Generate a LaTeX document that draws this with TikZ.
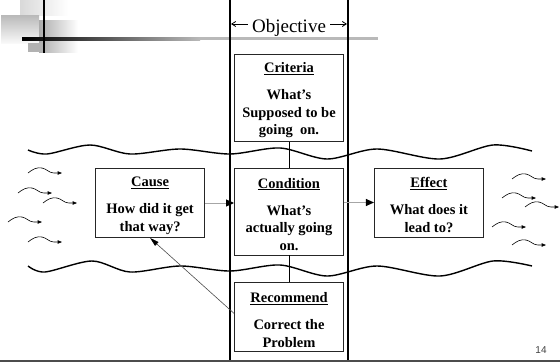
\documentclass[tikz,border=0pt]{standalone}
\usepackage{fontspec}
\setmainfont{Liberation Serif}
\setsansfont{Liberation Sans}
\usetikzlibrary{arrows.meta, positioning}
\newcommand{\boxhead}[1]{\rule{0pt}{15.5pt}\underline{#1}}

\begin{document}
\begin{tikzpicture}[
  x=1pt, y=-1pt,
  box/.style={draw=black!85, line width=0.9pt, minimum width=109pt,
              minimum height=87pt, inner sep=0pt, align=center,
              font=\bfseries\fontsize{14.5}{17.5}\selectfont},
  shortbox/.style={box, minimum height=69pt},
  flow/.style={draw=gray!70, line width=1pt, -{Triangle[length=8pt,width=7pt,color=black]}},
  link/.style={draw=black, line width=0.7pt},
  hint/.style={draw=black!70, line width=0.6pt, -{Triangle[length=9pt,width=5pt,color=black]}},
  frame/.style={line width=2pt, black},
  wave/.style={line width=1.4pt, black},
  drift/.style={line width=0.6pt, -{Triangle[length=4.5pt,width=3.5pt]}},
  objarrow/.style={line width=0.8pt, -{Straight Barb[length=4pt,width=5pt]}}
]
\useasboundingbox (0,0) rectangle (560,364);

% template corner
\shade[left color=gray!30, right color=white] (20,0) rectangle (68,15);
\shade[top color=gray!55, bottom color=gray!5] (1,15) rectangle (39,43);
\shade[left color=gray!65, right color=white] (39,20) rectangle (78,52);
\fill[gray!60] (28,43) rectangle (44,52);
\shade[left color=black, right color=gray!55] (22,37) rectangle (200,40);
\fill[gray!55] (200,37) rectangle (378,40);
\draw[line width=2.5pt] (44,0) -- (44,53);

% river banks
\draw[wave] plot[smooth] coordinates {(28,150) (47,154) (90,145) (130,154)
  (180,149) (230,154) (280,148) (327,159) (377,149) (440,159) (493,145) (532,151)};
\draw[wave] plot[smooth] coordinates {(28,266) (45,272) (92,261) (130,272)
  (180,266) (230,271) (280,265) (327,276) (377,266) (440,276) (493,261) (532,266)};

\foreach \x/\y in {28/173, 18/193, 43/203, 8/222, 28/242,
                   512/179, 502/198, 525/207, 492/227, 512/245}
  \draw[drift] (\x,\y) .. controls (\x+5,\y-4) and (\x+9,\y-6) .. (\x+14,\y-5)
    .. controls (\x+19,\y-4) and (\x+21,\y) .. (\x+26,\y) -- (\x+34,\y);

% objective band
\draw[frame] (230,0) -- (230,360);
\draw[frame] (348,0) -- (348,360);
\node[font=\fontsize{19}{22}\selectfont, inner sep=4pt, anchor=base] (obj) at (289,32) {Objective};
\coordinate (ltip) at (231,24);
\coordinate (rtip) at (347,24);
\draw[objarrow] (obj.west |- ltip) -- (ltip);
\draw[objarrow] (obj.east |- rtip) -- (rtip);

\node[box] (cond) at (289,211.5) {\boxhead{Condition}\\[9.5pt] What’s\\ actually going\\ on.};
\node[box, above=26pt of cond] (crit) {\boxhead{Criteria}\\[9.5pt] What’s\\ Supposed to be\\ going~ on.};
\node[shortbox, below=27pt of cond] (rec) {\boxhead{Recommend}\\[9.5pt] Correct the\\ Problem};
\node[shortbox, left=29pt of cond, yshift=8.5pt] (cause) {\boxhead{Cause}\\[9.5pt] How did it get\\ that way?};
\node[shortbox, right=30pt of cond, yshift=9pt] (eff) {\boxhead{Effect}\\[9.5pt] What does it\\ lead to?};

\draw[flow] (cause.east) -- (cause.east -| cond.west);
\draw[flow] (eff.west -| cond.east) -- (eff.west);
\draw[link] (crit.south) -- (crit.south |- cond.north);
\draw[link] (cond.south) -- (cond.south |- rec.north);
\draw[hint] ([yshift=4pt]rec.west) -- (cause.south);

% footer
\draw[line width=2pt, black!70] (0,361) -- (560,361);
\node[font=\sffamily\fontsize{10}{12}\selectfont, text=black!75] (pg) at (541,350) {14};
\end{tikzpicture}
\end{document}
